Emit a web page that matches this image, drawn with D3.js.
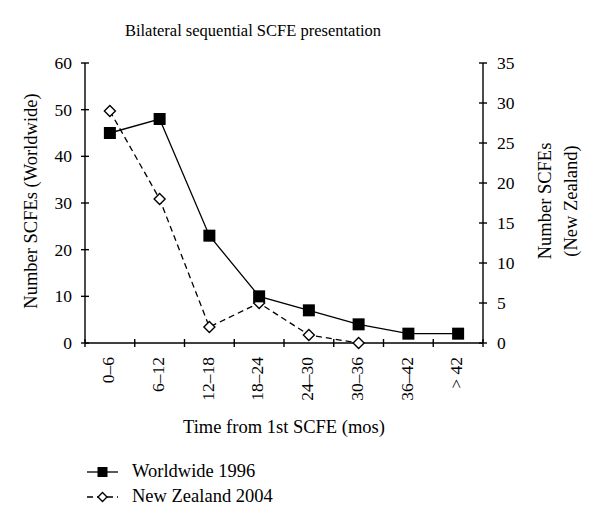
<!DOCTYPE html>
<html><head><meta charset="utf-8">
<script src="https://cdn.jsdelivr.net/npm/d3@7"></script>
<style>body{margin:0;background:#fff}svg{display:block}text{font-family:"Liberation Serif","DejaVu Serif",serif;fill:#000}</style>
</head><body>
<script>
const categories = ["0–6","6–12","12–18","18–24","24–30","30–36","36–42","> 42"];
const worldwide = [45,48,23,10,7,4,2,2];
const newZealand = [29,18,2,5,1,0];
const leftTicks = [0,10,20,30,40,50,60];
const rightTicks = [0,5,10,15,20,25,30,35];

const W=600,H=527;
const svg=d3.select("body").append("svg").attr("width",W).attr("height",H);
const x0=85,x1=483,yTop=63,yBot=343;
const x=d3.scaleBand().domain(categories).range([x0,x1]);
const yL=d3.scaleLinear().domain([0,60]).range([yBot,yTop]);
const yR=d3.scaleLinear().domain([0,35]).range([yBot,yTop]);
const fs=17.5, ft=18.5;

svg.append("text").attr("x",253).attr("y",36).attr("text-anchor","middle").attr("font-size",16.5).text("Bilateral sequential SCFE presentation");

// left axis
const gL=svg.append("g").attr("transform",`translate(${x0},0)`);
gL.append("line").attr("y1",yTop).attr("y2",yBot).attr("stroke","#000").attr("stroke-width",1.4);
leftTicks.forEach(t=>{
  gL.append("line").attr("x1",-4).attr("x2",4).attr("y1",yL(t)).attr("y2",yL(t)).attr("stroke","#000").attr("stroke-width",1.4);
  gL.append("text").attr("x",-13).attr("y",yL(t)).attr("dy","0.35em").attr("text-anchor","end").attr("font-size",fs).text(t);
});
// right axis
const gR=svg.append("g").attr("transform",`translate(${x1},0)`);
gR.append("line").attr("y1",yTop).attr("y2",yBot).attr("stroke","#000").attr("stroke-width",1.4);
rightTicks.forEach(t=>{
  gR.append("line").attr("x1",-4).attr("x2",4).attr("y1",yR(t)).attr("y2",yR(t)).attr("stroke","#000").attr("stroke-width",1.4);
  gR.append("text").attr("x",14).attr("y",yR(t)).attr("dy","0.35em").attr("text-anchor","start").attr("font-size",fs).text(t);
});
// x axis
const gX=svg.append("g").attr("transform",`translate(0,${yBot})`);
gX.append("line").attr("x1",x0).attr("x2",x1).attr("stroke","#000").attr("stroke-width",1.4);
const tickPos=[x0].concat(categories.map(c=>x(c)+x.bandwidth()));
tickPos.forEach(p=>gX.append("line").attr("x1",p).attr("x2",p).attr("y1",-4).attr("y2",4).attr("stroke","#000").attr("stroke-width",1.4));
categories.forEach(c=>{
  gX.append("text").attr("transform",`translate(${x(c)+x.bandwidth()/2-2},14) rotate(-90)`).attr("dy","0.35em").attr("text-anchor","end").attr("font-size",fs).text(c);
});

// axis titles
svg.append("text").attr("transform",`translate(37,201) rotate(-90)`).attr("text-anchor","middle").attr("font-size",ft).text("Number SCFEs (Worldwide)");
const rt=svg.append("text").attr("transform",`translate(551,201) rotate(-90)`).attr("text-anchor","middle").attr("font-size",ft);
rt.append("tspan").attr("x",0).attr("dy",0).text("Number SCFEs");
rt.append("tspan").attr("x",0).attr("dy",26).text("(New Zealand)");
svg.append("text").attr("x",284).attr("y",433).attr("text-anchor","middle").attr("font-size",ft).text("Time from 1st SCFE (mos)");

const cx=(i)=>x(categories[i])+x.bandwidth()/2;
// NZ line
svg.append("path").datum(newZealand).attr("fill","none").attr("stroke","#000").attr("stroke-width",1.3).attr("stroke-dasharray","6,4")
  .attr("d",d3.line().x((d,i)=>cx(i)).y(d=>yR(d)));
// WW line
svg.append("path").datum(worldwide).attr("fill","none").attr("stroke","#000").attr("stroke-width",1.3)
  .attr("d",d3.line().x((d,i)=>cx(i)).y(d=>yL(d)));
const diamond=(cxp,cyp,r)=>`M${cxp},${cyp-r}L${cxp+r},${cyp}L${cxp},${cyp+r}L${cxp-r},${cyp}Z`;
svg.selectAll(".nz").data(newZealand).enter().append("path").attr("d",(d,i)=>diamond(cx(i),yR(d),5.5)).attr("fill","#fff").attr("stroke","#000").attr("stroke-width",1.4);
svg.selectAll(".ww").data(worldwide).enter().append("rect").attr("x",(d,i)=>cx(i)-6).attr("y",d=>yL(d)-6).attr("width",12).attr("height",12).attr("fill","#000");

// legend
const lg=svg.append("g");
lg.append("line").attr("x1",87).attr("x2",118).attr("y1",472).attr("y2",472).attr("stroke","#000").attr("stroke-width",1.3);
lg.append("rect").attr("x",97.5).attr("y",467).attr("width",10).attr("height",10).attr("fill","#000");
lg.append("text").attr("x",132).attr("y",477).attr("font-size",ft).text("Worldwide 1996");
lg.append("line").attr("x1",87).attr("x2",118).attr("y1",497).attr("y2",497).attr("stroke","#000").attr("stroke-width",1.3).attr("stroke-dasharray","6,4");
lg.append("path").attr("d",diamond(102.5,497,4.5)).attr("fill","#fff").attr("stroke","#000").attr("stroke-width",1.4);
lg.append("text").attr("x",132).attr("y",502).attr("font-size",ft).text("New Zealand 2004");
</script>
</body></html>
